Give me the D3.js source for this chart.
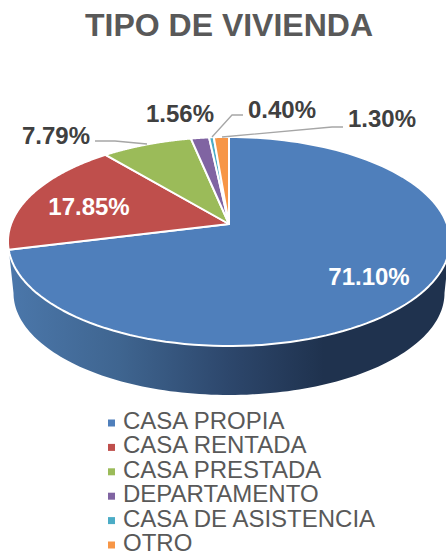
<!DOCTYPE html>
<html>
<head>
<meta charset="utf-8">
<script src="https://cdn.jsdelivr.net/npm/d3@7"></script>
<style>
  html, body { margin: 0; padding: 0; background: #fff; overflow: hidden; }
  text { font-family: "Liberation Sans", Arial, sans-serif; }
</style>
</head>
<body>
<svg id="main"></svg>
<script>
var categories = ["CASA PROPIA", "CASA RENTADA", "CASA PRESTADA", "DEPARTAMENTO", "CASA DE ASISTENCIA", "OTRO"];
var values = [71.10, 17.85, 7.79, 1.56, 0.40, 1.30];
var labels = ["71.10%", "17.85%", "7.79%", "1.56%", "0.40%", "1.30%"];
var colors = ["#4f7fbb", "#bf4f4c", "#9bbb59", "#8064a2", "#4bacc6", "#f79646"];

var chart = {
  width: 446,
  height: 556,
  cx: 229,
  cy: 224,     // apex of the slices
  a: 101.6,    // vertical projection
  b: 217.9,    // horizontal projection
  k: -0.1675,  // perspective
  depth: 52
};

// label spots and leader elbows, order follows categories
var labelPos = [
  { x: 369, y: 285, fill: "#fff" },
  { x: 89, y: 215, fill: "#fff" },
  { x: 56, y: 144, fill: "#404040" },
  { x: 180, y: 122, fill: "#404040" },
  { x: 282, y: 118, fill: "#404040" },
  { x: 382, y: 127, fill: "#404040" }
];
var leaders = [
  null,
  null,
  { start: [95, 141], elbow: [115, 141], end: [147, 144] },
  null,
  { start: [243, 115], elbow: [232, 115], end: [212, 137] },
  { start: [343, 127], elbow: [332, 127], end: [222, 137] }
];

var svg = d3.select("#main")
  .attr("width", chart.width)
  .attr("height", chart.height)
  .style("display", "block");

// circle -> tilted disc, apex sits above the middle of the ellipse
function project(angle, lift, shrink) {
  var X = Math.sin(angle), Y = -Math.cos(angle);
  var d = 1 + chart.k * Y;
  return [
    chart.cx + chart.b * shrink * X / d,
    chart.cy + (lift || 0) + chart.a * shrink * Y / d
  ];
}

var line = d3.line();

function arcPoints(a0, a1, lift, shrink) {
  return d3.range(0, 121).map(function(i) {
    return project(a0 + (a1 - a0) * i / 120, lift, shrink);
  });
}

var pie = d3.pie().sort(null)(values);

var defs = svg.append("defs");
var grad = defs.append("linearGradient")
  .attr("id", "side")
  .attr("gradientUnits", "userSpaceOnUse")
  .attr("x1", 10).attr("x2", 446).attr("y1", 0).attr("y2", 0);
grad.append("stop").attr("offset", "0").attr("stop-color", "#4b77aa");
grad.append("stop").attr("offset", "0.25").attr("stop-color", "#3f6590");
grad.append("stop").attr("offset", "0.5").attr("stop-color", "#2d476c");
grad.append("stop").attr("offset", "0.72").attr("stop-color", "#1f324e");
grad.append("stop").attr("offset", "1").attr("stop-color", "#1f324e");

// side wall, tangent to tangent round the front of the disc
var tangent = Math.acos(-chart.k);
var t0 = Math.PI - tangent, t1 = Math.PI + tangent;
var wallTop = arcPoints(t0, t1, 0, 1);
var wallBottom = arcPoints(t1, t0, chart.depth, 0.975);
svg.append("path")
  .attr("d", line(wallTop.concat(wallBottom)) + "Z")
  .attr("fill", "url(#side)");

// top face
svg.selectAll("path.slice")
  .data(pie)
  .enter().append("path")
  .attr("class", "slice")
  .attr("d", function(d) {
    return line([[chart.cx, chart.cy]].concat(arcPoints(d.startAngle, d.endAngle, 0, 1))) + "Z";
  })
  .attr("fill", function(d, i) { return colors[i]; })
  .attr("stroke", "#fff")
  .attr("stroke-width", 2)
  .attr("stroke-linejoin", "round");

// leaders
svg.selectAll("path.leader")
  .data(leaders.filter(Boolean))
  .enter().append("path")
  .attr("class", "leader")
  .attr("d", function(d) { return line([d.start, d.elbow, d.end]); })
  .attr("fill", "none")
  .attr("stroke", "#a6a6a6")
  .attr("stroke-width", 1.3);

// data labels
svg.selectAll("text.pct")
  .data(labels)
  .enter().append("text")
  .attr("class", "pct")
  .attr("x", function(d, i) { return labelPos[i].x; })
  .attr("y", function(d, i) { return labelPos[i].y; })
  .attr("text-anchor", "middle")
  .attr("font-size", 24)
  .attr("font-weight", "bold")
  .attr("fill", function(d, i) { return labelPos[i].fill; })
  .text(function(d) { return d; });

// title
svg.append("text")
  .attr("x", 229)
  .attr("y", 36)
  .attr("text-anchor", "middle")
  .attr("font-size", 32)
  .attr("font-weight", "bold")
  .attr("fill", "#595959")
  .text("TIPO DE VIVIENDA");

// legend
var rowY = d3.scalePoint().domain(categories).range([429, 551]);
var legend = svg.selectAll("g.legend")
  .data(categories)
  .enter().append("g")
  .attr("class", "legend")
  .attr("transform", function(d) { return "translate(0," + rowY(d) + ")"; });
legend.append("rect")
  .attr("x", 108).attr("y", -9.5)
  .attr("width", 7).attr("height", 7)
  .attr("fill", function(d, i) { return colors[i]; });
legend.append("text")
  .attr("x", 123)
  .attr("font-size", 24)
  .attr("fill", "#595959")
  .text(function(d) { return d; });
</script>
</body>
</html>
